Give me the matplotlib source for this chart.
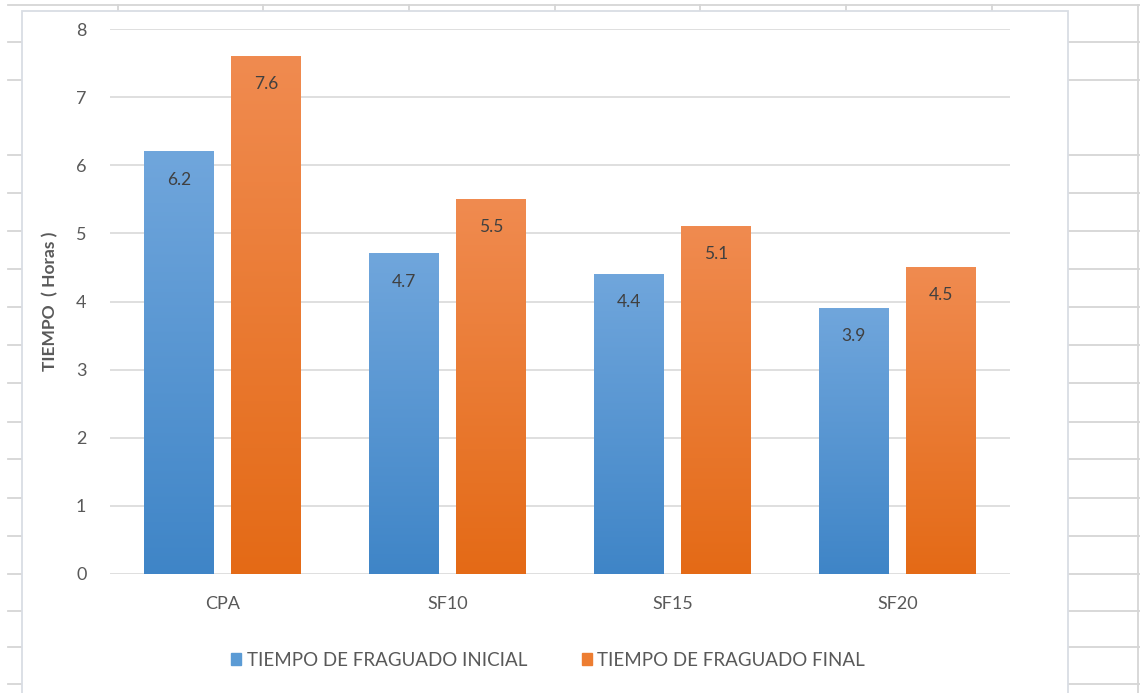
import numpy as np
import matplotlib
matplotlib.use('Agg')
import matplotlib.pyplot as plt
from matplotlib.patches import Rectangle
from matplotlib.colors import LinearSegmentedColormap

plt.rcParams['font.family'] = ['Lato', 'DejaVu Sans']

categories = ['CPA', 'SF10', 'SF15', 'SF20']
inicial = [6.2, 4.7, 4.4, 3.9]
final = [7.6, 5.5, 5.1, 4.5]
series_names = ['TIEMPO DE FRAGUADO INICIAL', 'TIEMPO DE FRAGUADO FINAL']

W, H = 1140, 693
fig = plt.figure(figsize=(W / 100, H / 100), dpi=100)

# sheet background: cell grid behind the chart object
bg = fig.add_axes([0, 0, 1, 1])
bg.set_xlim(0, W)
bg.set_ylim(H, 0)
bg.axis('off')
grid_c = '#d6d6d6'
rows = [5, 42, 80, 155, 193, 231, 269, 307, 345, 383, 422, 459, 498, 536,
        574, 611, 647, 684]
cols = [118, 263, 409, 555, 700, 846, 992, 1138]
for y in rows:
    bg.plot([8, W], [y, y], color=grid_c, lw=1.3)
for x in cols:
    bg.plot([x, x], [5, H], color=grid_c, lw=1.3)
bg.add_patch(Rectangle((22, 10.5), 1046, H, facecolor='white',
                       edgecolor='#d9dde4', lw=1.3, zorder=3))

# chart plot area
ax = fig.add_axes([110 / W, (H - 574) / H, 900 / W, 545 / H])
ax.set_zorder(5)
ax.patch.set_alpha(0)

blue_cm = LinearSegmentedColormap.from_list('b', ['#3f85c7', '#70a6dc'])
orange_cm = LinearSegmentedColormap.from_list('o', ['#e46a16', '#f08b50'])

x = np.arange(len(categories))
bw = 0.311
gap = 0.076
grad = np.linspace(0, 1, 256).reshape(-1, 1)


def gradient_bar(xc, h, cmap):
    ax.imshow(grad, extent=[xc - bw / 2, xc + bw / 2, 0, h], origin='lower',
              aspect='auto', cmap=cmap, zorder=2, interpolation='bilinear')


for i in range(len(categories)):
    xb = x[i] - (bw + gap) / 2
    xo = x[i] + (bw + gap) / 2
    gradient_bar(xb, inicial[i], blue_cm)
    gradient_bar(xo, final[i], orange_cm)
    ax.text(xb, inicial[i] - 0.41, '%.1f' % inicial[i], ha='center',
            va='center', fontsize=12.5, color='#404040', zorder=4)
    ax.text(xo, final[i] - 0.41, '%.1f' % final[i], ha='center',
            va='center', fontsize=12.5, color='#404040', zorder=4)

ax.set_xlim(-0.5, len(categories) - 0.5)
ax.set_ylim(0, 8)
ax.set_yticks(np.arange(0, 9, 1))
ax.set_xticks(x)
ax.set_xticklabels(categories)
ax.grid(axis='y', color='#d9d9d9', lw=1.2, zorder=0)
ax.set_axisbelow(True)
for s in ax.spines.values():
    s.set_visible(False)
ax.tick_params(axis='both', length=0, labelsize=13, colors='#595959')
ax.tick_params(axis='y', pad=17)
ax.tick_params(axis='x', pad=16)
ax.set_ylabel('TIEMPO  ( Horas )', fontsize=12.5, fontweight='bold',
              color='#595959', labelpad=13)

# legend
handles = [Rectangle((0, 0), 1, 1, color='#5b9bd5'),
           Rectangle((0, 0), 1, 1, color='#ed7d31')]
fig.legend(handles, series_names, loc='center', ncol=2, frameon=False,
           bbox_to_anchor=(548 / W, 1 - 660 / H), fontsize=13.5,
           labelcolor='#595959', handlelength=0.55, handleheight=0.55,
           handletextpad=0.3, columnspacing=2.9)

fig.savefig('out.png', dpi=100)
